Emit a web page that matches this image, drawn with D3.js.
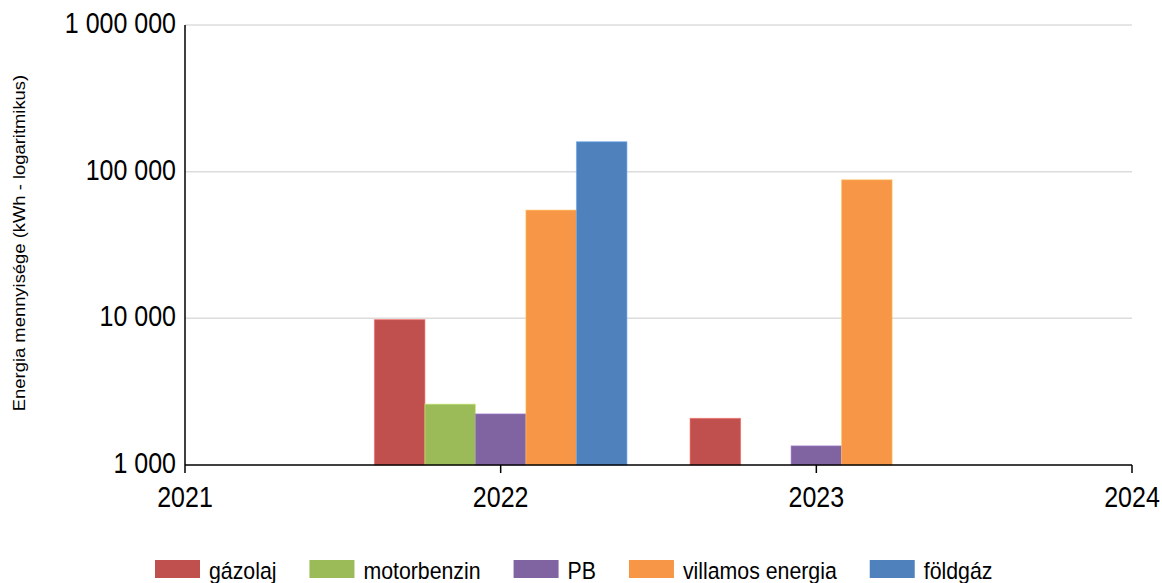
<!DOCTYPE html>
<html><head><meta charset="utf-8">
<script src="https://cdn.jsdelivr.net/npm/d3@7"></script>
<style>body{margin:0;background:#fff}svg{display:block}text{font-family:"Liberation Sans",Arial,sans-serif;fill:#000}</style>
</head><body>
<svg id="c" width="1162" height="583"></svg>
<script>
const years = [2022, 2023];
const series = ["gázolaj", "motorbenzin", "PB", "villamos energia", "földgáz"];
const colors = ["#C0504D", "#9BBB59", "#8064A2", "#F79646", "#4F81BD"];
const gazolaj = [9800, 2080];
const motorbenzin = [2600, null];
const pb = [2230, 1350];
const villamos = [54700, 88000];
const foldgaz = [160000, null];
const yTicks = [1000, 10000, 100000, 1000000];
const xTicks = [2021, 2022, 2023, 2024];
const yTitle = "Energia mennyisége (kWh - logaritmikus)";

const values = [gazolaj, motorbenzin, pb, villamos, foldgaz];
const svg = d3.select("#c");
const L = 185, R = 1132, T = 25, B = 465;
const SY = 1.16;
const x = d3.scaleLinear().domain([2021, 2024]).range([L, R]);
const y = d3.scaleLog().domain([1000, 1000000]).range([B, T]);
const fmt = v => d3.format(",")(v).replace(/,/g, " ");

// grid
svg.append("g").selectAll("line").data(yTicks.slice(1)).join("line")
  .attr("x1", L).attr("x2", R).attr("y1", d => y(d)).attr("y2", d => y(d))
  .attr("stroke", "#dcdcdc").attr("stroke-width", 1.5);

// bars
const groupW = 0.8, bw = groupW / series.length;
series.forEach((s, si) => {
  const data = years.map((yr, i) => ({yr, v: values[si][i]})).filter(d => d.v != null);
  svg.append("g").selectAll("rect").data(data).join("rect")
    .attr("x", d => x(d.yr - groupW / 2 + si * bw))
    .attr("width", x(2021 + bw) - x(2021))
    .attr("y", d => y(d.v))
    .attr("height", d => y(1000) - y(d.v))
    .attr("fill", colors[si])
    .attr("stroke", d3.color(colors[si]).brighter(0.7))
    .attr("stroke-opacity", 0.6)
    .attr("stroke-width", 1);
});

// axes
const ax = svg.append("g");
ax.append("line").attr("x1", L).attr("x2", L).attr("y1", T).attr("y2", B + 8).attr("stroke", "#000").attr("stroke-width", 1.5);
ax.append("line").attr("x1", L).attr("x2", R).attr("y1", B).attr("y2", B).attr("stroke", "#000").attr("stroke-width", 1.5);
ax.selectAll(".xt").data(xTicks.slice(1)).join("line")
  .attr("x1", d => x(d)).attr("x2", d => x(d)).attr("y1", B).attr("y2", B + 8)
  .attr("stroke", "#000").attr("stroke-width", 1.5);
ax.selectAll(".xl").data(xTicks).join("text")
  .attr("transform", d => `translate(${x(d)},${B + 42}) scale(1,${SY})`)
  .attr("text-anchor", "middle").attr("font-size", 25).text(d => d);
ax.selectAll(".yl").data(yTicks).join("text")
  .attr("transform", d => `translate(${L - 9},${y(d) + 8}) scale(1,${SY})`)
  .attr("text-anchor", "end").attr("font-size", 25).text(d => fmt(d));
svg.append("text").attr("transform", `translate(25,243) rotate(-90) scale(1.15,1)`)
  .attr("text-anchor", "middle").attr("font-size", 16).text(yTitle);

// legend
const lg = svg.append("g");
let cx = 155;
series.forEach((s, i) => {
  const g = lg.append("g");
  g.append("rect").attr("x", cx).attr("y", 560).attr("width", 45).attr("height", 18).attr("fill", colors[i]);
  const t = g.append("text").attr("transform", `translate(${cx + 54},579) scale(1,${SY})`)
    .attr("font-size", 21.3).text(s);
  cx += 54 + t.node().getComputedTextLength() + 33;
});
</script>
</body></html>
